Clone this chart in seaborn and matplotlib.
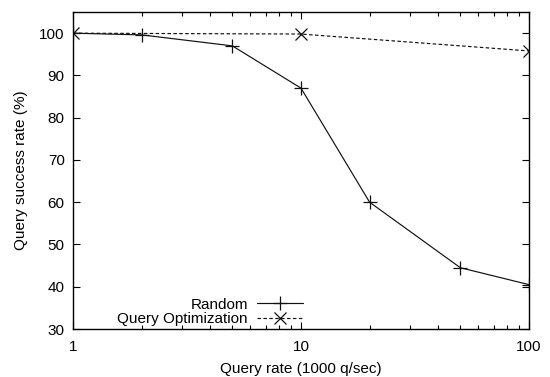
import matplotlib
matplotlib.use("Agg")
import matplotlib.pyplot as plt
import seaborn as sns
import pandas as pd
from matplotlib.ticker import LogLocator, FixedLocator, NullFormatter

sns.set_style("ticks")
plt.rcParams['font.family'] = ['Liberation Sans', 'DejaVu Sans']
plt.rcParams['text.color'] = 'black'
plt.rcParams['axes.labelcolor'] = 'black'
plt.rcParams['xtick.color'] = 'black'
plt.rcParams['ytick.color'] = 'black'

random_x = [1, 2, 5, 10, 20, 50, 100]
random_y = [100, 99.6, 97, 87, 60, 44.5, 40.5]
qo_x = [1, 10, 100]
qo_y = [100, 99.8, 95.8]
x_ticks = [1, 10, 100]
y_ticks = [30, 40, 50, 60, 70, 80, 90, 100]

df_r = pd.DataFrame({"x": random_x, "y": random_y})
df_q = pd.DataFrame({"x": qo_x, "y": qo_y})

fig = plt.figure(figsize=(5.5, 3.77), dpi=100)
ax = fig.add_axes([0.1327, 0.1273, 0.8291, 0.8407])

sns.lineplot(data=df_r, x="x", y="y", ax=ax, color="#111111", linewidth=0.85,
             marker="+", markersize=10, markeredgewidth=0.9,
             markeredgecolor="#111111", label="Random")
sns.lineplot(data=df_q, x="x", y="y", ax=ax, color="#111111", linewidth=0.85,
             linestyle=(0, (3, 2)), marker="x", markersize=8, markeredgewidth=0.9,
             markeredgecolor="#111111", label="Query Optimization")

ax.set_xscale("log")
ax.set_xlim(1, 100)
ax.set_ylim(30, 105)
ax.xaxis.set_major_locator(FixedLocator(x_ticks))
ax.set_xticklabels([str(t) for t in x_ticks])
ax.xaxis.set_minor_locator(LogLocator(base=10, subs=range(2, 10)))
ax.xaxis.set_minor_formatter(NullFormatter())
ax.yaxis.set_major_locator(FixedLocator(y_ticks))
ax.set_yticklabels([str(t) for t in y_ticks])

ax.tick_params(which="both", direction="in", top=True, right=True, labelsize=11)
ax.tick_params(axis="x", pad=8)
ax.tick_params(axis="y", pad=6)
ax.tick_params(which="major", length=5, width=0.8)
ax.tick_params(which="minor", length=3, width=0.8)
for s in ax.spines.values():
    s.set_linewidth(1.0)
    s.set_color("black")

ax.set_xlabel("Query rate (1000 q/sec)", fontsize=11, labelpad=6)
ax.set_ylabel("Query success rate (%)", fontsize=11, labelpad=8)

leg = ax.legend(loc="lower left", bbox_to_anchor=(0.067, -0.035), frameon=False,
                markerfirst=False, fontsize=11, handlelength=3.0,
                labelspacing=0.05, handletextpad=0.6)
for t in leg.get_texts():
    t.set_ha("right")

fig.savefig("out.png", dpi=100)
